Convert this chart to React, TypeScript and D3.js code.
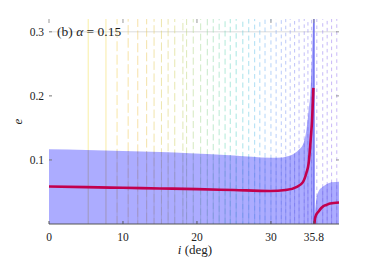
import * as d3 from 'd3'

const xTicks = [0, 10, 20, 30, 35.8]
const yTicks = [0.1, 0.2, 0.3]

// contour columns (i in deg) of the background field
const columns = [
  5.3, 7.7, 9.2, 10.7, 12.0, 13.2, 14.2, 15.2, 16.1, 17.0, 18.1, 18.6, 19.5, 20.5,
  21.4, 22.2, 23.0, 23.8, 24.5, 25.3, 26.2, 27.0, 27.8, 28.5, 29.2, 30.0, 30.7,
  31.4, 32.0, 32.6, 33.2, 33.8, 34.5, 35.0, 35.5, 36.2, 37.0, 37.6, 38.2, 38.9,
]

// upper edge of the shaded region, left branch
const upperLeft: [number, number][] = [
  [0, 0.1167], [5, 0.1155], [10, 0.114], [15, 0.1125], [19, 0.1105], [25, 0.107],
  [29.9, 0.1036], [31.6, 0.104], [32.4, 0.106], [33, 0.109], [33.7, 0.115],
  [34.4, 0.126], [34.8, 0.147], [35.1, 0.178], [35.36, 0.209], [35.55, 0.26], [35.7, 0.32],
]
// upper edge, right branch
const upperRight: [number, number][] = [
  [35.75, 0], [35.95, 0.02], [36.15, 0.04], [36.4, 0.05], [37, 0.058],
  [37.5, 0.062], [38.2, 0.065], [39.2, 0.066],
]
// red curve, left branch
const redLeft: [number, number][] = [
  [0, 0.0586], [5, 0.0575], [10, 0.0565], [15, 0.0555], [20, 0.0545], [25, 0.053],
  [29.9, 0.0516], [32, 0.053], [33.5, 0.058], [34.3, 0.065], [34.8, 0.08],
  [35.1, 0.095], [35.4, 0.136], [35.55, 0.16], [35.74, 0.2125],
]
// red curve, right branch
const redRight: [number, number][] = [
  [35.88, 0], [35.95, 0.008], [36.1, 0.014], [36.4, 0.019], [36.8, 0.025],
  [37.1, 0.028], [37.5, 0.0297], [38, 0.032], [39.2, 0.0335],
]

const colorStops = ['#f4e35a', '#f0c860', '#d6d46e', '#9fdc9a', '#5fd6c6', '#6cc2f0', '#7fa2f4', '#8d88f2', '#9a7ef0']
const colorAt = [5, 12, 17, 21, 25, 28, 31, 34, 38]

export default function App() {
  const width = 374
  const height = 262
  const x = d3.scaleLinear([0, 39.2], [49, 339])
  const y = d3.scaleLinear([0, 0.32], [224, 19])
  const color = d3.scaleLinear<string>().domain(colorAt).range(colorStops).clamp(true)

  const line = d3.line<[number, number]>()
    .x(d => x(d[0]))
    .y(d => y(d[1]))
    .curve(d3.curveMonotoneX)
  const area = d3.area<[number, number]>()
    .x(d => x(d[0]))
    .y0(y(0))
    .y1(d => y(d[1]))
    .curve(d3.curveMonotoneX)

  const font = 'Liberation Serif, DejaVu Serif, serif'

  return (
    <svg width={width} height={height} style={{position: 'absolute', left: 0, top: 0}}>
      <defs>
        <clipPath id="fillclip">
          <path d={area(upperLeft) ?? undefined} />
          <path d={area(upperRight) ?? undefined} />
        </clipPath>
      </defs>
      <rect width={width} height={height} fill="white" />

      {/* grid line at 0.3 */}
      <line x1={x(0) + 3} x2={x(39.2) - 2} y1={y(0.3)} y2={y(0.3)} stroke="#dcdcdc" strokeWidth={1} />

      {/* background field */}
      <g strokeWidth={1} fill="none">
        {columns.map((c, k) => (
          <line
            key={k}
            x1={x(c)} x2={x(c)} y1={y(0.32)} y2={y(0)}
            stroke={color(c)}
            opacity={0.55}
            strokeDasharray={c < 9 ? 'none' : `${Math.max(3.5, 10 - (c - 9) * 0.28)} 3.5`}
            strokeDashoffset={(k * 2.3) % 8}
          />
        ))}
      </g>

      {/* shaded region */}
      <path d={area(upperLeft) ?? undefined} fill="#7070ff" opacity={0.58} />
      <path d={area(upperRight) ?? undefined} fill="#7070ff" opacity={0.58} />
      <g clipPath="url(#fillclip)">
        {columns.map((c, k) => (
          <line key={k} x1={x(c)} x2={x(c)} y1={y(0.32)} y2={y(0)}
            stroke={d3.interpolateRgb(color(c), '#3c3cc8')(0.55)} opacity={0.35} strokeWidth={1} />
        ))}
      </g>

      {/* line at the critical inclination */}
      <line x1={x(35.8)} x2={x(35.8)} y1={y(0.32)} y2={y(0)} stroke="#7a7af2" strokeWidth={1.8} />

      <path d={line(redLeft) ?? undefined} fill="none" stroke="#c2004e" strokeWidth={2.6} />
      <path d={line(redRight) ?? undefined} fill="none" stroke="#c2004e" strokeWidth={2.6} />

      {/* axes */}
      <line x1={x(0)} x2={x(39.2)} y1={y(0)} y2={y(0)} stroke="#555" strokeWidth={1} />
      {xTicks.map(t => (
        <g key={t}>
          <line x1={x(t)} x2={x(t)} y1={y(0)} y2={y(0) - 3} stroke="#555" />
          <line x1={x(t)} x2={x(t)} y1={19} y2={23} stroke="#999" />
          <text x={x(t)} y={241} textAnchor="middle" fontFamily={font} fontSize={11.5} fill="#222">{t}</text>
        </g>
      ))}
      {yTicks.map(t => (
        <g key={t}>
          <line x1={x(0)} x2={x(0) + 3} y1={y(t)} y2={y(t)} stroke="#777" />
          <line x1={x(39.2) - 3} x2={x(39.2)} y1={y(t)} y2={y(t)} stroke="#999" />
          <text x={44} y={y(t) + 4} textAnchor="end" fontFamily={font} fontSize={11.5} fill="#222">{t.toFixed(1)}</text>
        </g>
      ))}

      <text x={57} y={35.5} fontFamily={font} fontSize={13.5} fill="#222">
        (b) <tspan fontStyle="italic">α</tspan> = 0.15
      </text>
      <text transform={`translate(22, ${y(0.16)}) rotate(-90)`} textAnchor="middle" fontFamily={font} fontStyle="italic" fontSize={13} fill="#222">e</text>
      <text x={195} y={254} textAnchor="middle" fontFamily={font} fontSize={13} fill="#222">
        <tspan fontStyle="italic">i</tspan> (deg)
      </text>
    </svg>
  )
}
